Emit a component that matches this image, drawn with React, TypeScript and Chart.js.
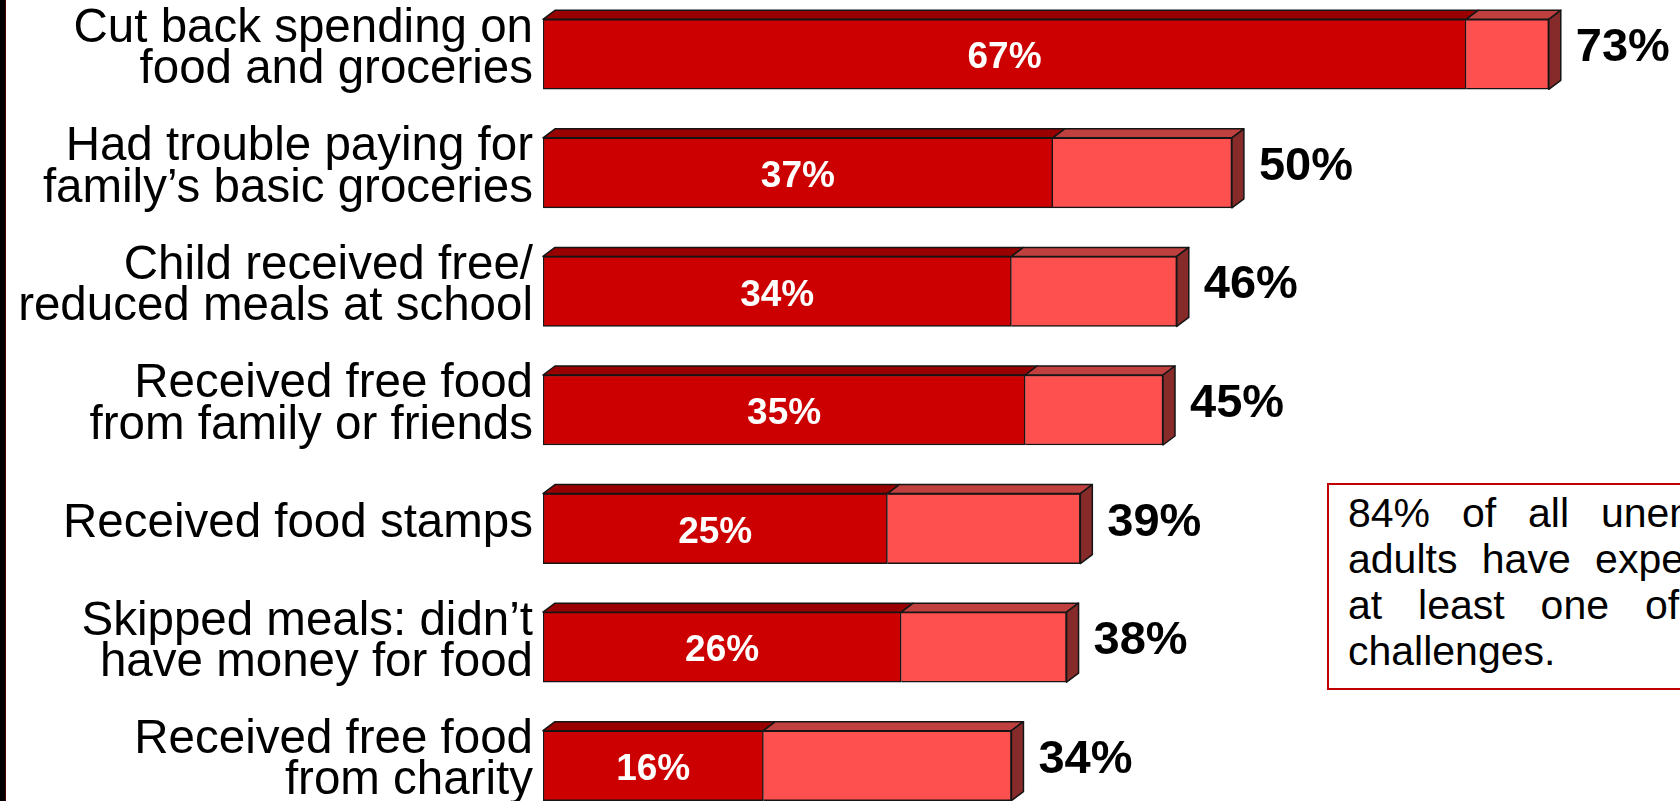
import React, { useEffect, useRef } from "react";
import { Chart, registerables } from "chart.js";

Chart.register(...registerables);

const categories: (string | string[])[] = [
  ["Cut back spending on", "food and groceries"],
  ["Had trouble paying for", "family\u2019s basic groceries"],
  ["Child received free/", "reduced meals at school"],
  ["Received free food", "from family or friends"],
  "Received food stamps",
  ["Skipped meals: didn\u2019t", "have money for food"],
  ["Received free food", "from charity"],
];
const innerValues = [67, 37, 34, 35, 25, 26, 16];
const totalValues = [73, 50, 46, 45, 39, 38, 34];
const extraValues = totalValues.map((t, i) => t - innerValues[i]);

const noteLines = [
  "84% of all unemployed",
  "adults have experienced",
  "at least one of these",
  "challenges.",
];
const noteSpacing = [20.5, 13, 24.5, 0];

const FONT = "'Liberation Sans', Arial, Helvetica, sans-serif";

const box3d = {
  id: "box3d",
  afterDatasetsDraw(chart: any) {
    const ctx = chart.ctx as CanvasRenderingContext2D;
    const m0 = chart.getDatasetMeta(0);
    const m1 = chart.getDatasetMeta(1);
    const dx = 12;
    const dy = 9;
    const poly = (pts: number[][], fill: string) => {
      ctx.beginPath();
      ctx.moveTo(pts[0][0], pts[0][1]);
      for (let k = 1; k < pts.length; k++) ctx.lineTo(pts[k][0], pts[k][1]);
      ctx.closePath();
      ctx.fillStyle = fill;
      ctx.fill();
      ctx.stroke();
    };
    ctx.save();
    ctx.lineWidth = 1.5;
    ctx.strokeStyle = "#151515";
    ctx.lineJoin = "round";
    m0.data.forEach((el0: any, i: number) => {
      const el1 = m1.data[i];
      const p0 = el0.getProps(["x", "y", "base", "height"], true);
      const p1 = el1.getProps(["x", "y", "base", "height"], true);
      const top = p0.y - p0.height / 2;
      const bot = p0.y + p0.height / 2;
      const b = p0.base;
      const e = p0.x;
      const t = p1.x;
      poly([[b, top], [e, top], [e + dx, top - dy], [b + dx, top - dy]], "#990000");
      poly([[e, top], [t, top], [t + dx, top - dy], [e + dx, top - dy]], "#C04040");
      poly([[t, top], [t + dx, top - dy], [t + dx, bot - dy], [t, bot]], "#862A2A");

      ctx.fillStyle = "#ffffff";
      ctx.font = `bold 37px ${FONT}`;
      ctx.textAlign = "center";
      ctx.textBaseline = "middle";
      ctx.fillText(innerValues[i] + "%", (b + e) / 2, p0.y + 4);

      ctx.fillStyle = "#000000";
      ctx.font = `bold 47px ${FONT}`;
      ctx.textAlign = "left";
      ctx.fillText(totalValues[i] + "%", t + dx + 15, p0.y - 6);
    });
    ctx.restore();
  },
};

export default function App() {
  const ref = useRef<HTMLCanvasElement | null>(null);

  useEffect(() => {
    if (!ref.current) return;
    const chart = new Chart(ref.current, {
      type: "bar",
      data: {
        labels: categories as any,
        datasets: [
          {
            data: innerValues,
            backgroundColor: "#CC0000",
            borderColor: "#151515",
            borderWidth: 1.5,
            borderSkipped: false,
            barThickness: 70,
          },
          {
            data: extraValues,
            backgroundColor: "#FF5050",
            borderColor: "#151515",
            borderWidth: 1.5,
            borderSkipped: "start",
            barThickness: 70,
          },
        ],
      },
      options: {
        indexAxis: "y",
        responsive: false,
        animation: false,
        layout: { padding: { top: 5, bottom: 15, right: 17, left: 0 } },
        plugins: {
          legend: { display: false },
          tooltip: { enabled: false },
        },
        scales: {
          x: { stacked: true, min: 0, max: 90, display: false },
          y: {
            stacked: true,
            grid: { display: false, drawTicks: false },
            border: { display: false },
            ticks: {
              color: "#000000",
              padding: 10,
              labelOffset: -5,
              font: { family: FONT, size: 47.5, lineHeight: 0.87 },
            },
            afterFit: (s: any) => {
              s.width = 543;
              s.paddingTop = 0;
              s.paddingBottom = 0;
            },
          },
        },
      },
      plugins: [box3d],
    } as any);
    return () => chart.destroy();
  }, []);

  return (
    <div
      style={{
        position: "fixed",
        left: 0,
        top: 0,
        width: 1680,
        height: 801,
        overflow: "hidden",
        background: "#ffffff",
      }}
    >
      <canvas
        ref={ref}
        width={1800}
        height={850}
        style={{ position: "absolute", left: 0, top: -10, width: 1800, height: 850 }}
      />
      <div
        style={{
          position: "absolute",
          left: 0,
          top: 0,
          width: 6,
          height: 801,
          background: "linear-gradient(to right, #000 0, #000 5px, #4a0000 5px, #4a0000 6px)",
        }}
      />
      <div
        style={{
          position: "absolute",
          left: 1327,
          top: 483,
          width: 560,
          height: 207,
          boxSizing: "border-box",
          border: "2px solid #C00000",
          padding: "5px 0 0 19px",
          fontFamily: FONT,
          fontSize: 41,
          lineHeight: "46px",
          color: "#000",
          background: "#fff",
        }}
      >
        {noteLines.map((l, i) => (
          <div key={i} style={{ whiteSpace: "nowrap", wordSpacing: noteSpacing[i] }}>
            {l}
          </div>
        ))}
      </div>
    </div>
  );
}
